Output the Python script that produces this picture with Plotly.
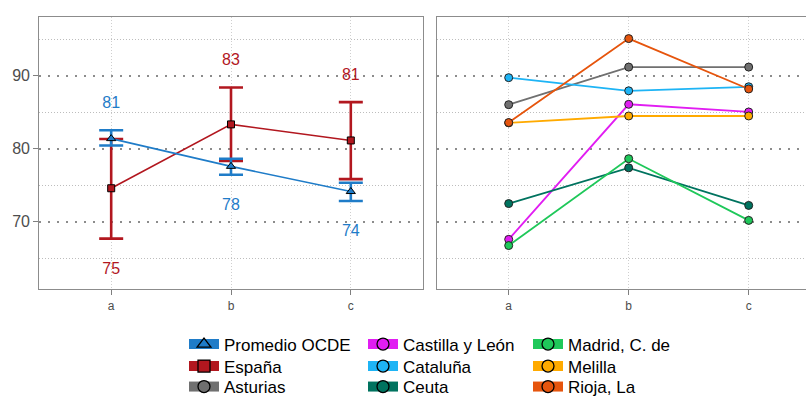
import plotly.graph_objects as go

# ---------------------------------------------------------------- data
categories = ["a", "b", "c"]

# Left panel: OECD average and Spain, with confidence intervals
ocde_name = "Promedio OCDE"
ocde_val = [81.4, 77.6, 74.15]
ocde_low = [80.45, 76.45, 72.85]
ocde_high = [82.55, 78.65, 75.35]

espana_name = "España"
espana_val = [74.6, 83.35, 81.15]
espana_low = [67.7, 78.35, 75.85]
espana_high = [81.35, 88.4, 86.4]

# Right panel: regions
asturias = [86.05, 91.2, 91.2]
castilla_leon = [67.6, 86.1, 85.05]
cataluna = [89.75, 87.95, 88.5]
ceuta = [72.5, 77.4, 72.25]
madrid = [66.75, 78.65, 70.2]
melilla = [83.55, 84.5, 84.5]
rioja = [83.6, 95.1, 88.2]

region_names = ["Asturias", "Castilla y León", "Cataluña", "Ceuta",
                "Madrid, C. de", "Melilla", "Rioja, La"]
region_values = [asturias, castilla_leon, cataluna, ceuta, madrid, melilla, rioja]

y_major_ticks = [70, 80, 90]
y_minor_ticks = [65, 75, 85, 95]

# ---------------------------------------------------------------- styles
W, H = 806, 396
FONT = "Liberation Sans, Arial, sans-serif"
OCDE_COLOR = "#1F7CC8"
ESPANA_COLOR = "#B2171F"
REGION_COLORS = ["#707070", "#E11DF2", "#1EB4F5", "#00735F",
                 "#1FC85A", "#FFAA00", "#E6550D"]
# distance (in y units) between interval end and its value label
LABEL_OFFSET_ABOVE = 3.6
LABEL_OFFSET_BELOW = 4.3


def px_x(p):
    return p / W


def px_y(p):
    return 1 - p / H


fig = go.Figure()


def label_positions(vals, lows, highs, others):
    # label above the interval when the series is the higher one, below otherwise
    return [h + LABEL_OFFSET_ABOVE if v > o else l - LABEL_OFFSET_BELOW
            for v, l, h, o in zip(vals, lows, highs, others)]


def add_interval_series(name, vals, lows, highs, others, color, symbol, size):
    fig.add_trace(go.Scatter(
        x=categories, y=vals, mode="lines+markers", name=name,
        xaxis="x", yaxis="y", showlegend=False,
        line=dict(color=color, width=1.6),
        marker=dict(symbol=symbol, size=size, color=color,
                    line=dict(color="black", width=1)),
        error_y=dict(type="data", symmetric=False,
                     array=[h - v for v, h in zip(vals, highs)],
                     arrayminus=[v - l for v, l in zip(vals, lows)],
                     color=color, thickness=2.6, width=12),
    ))
    fig.add_trace(go.Scatter(
        x=categories, y=label_positions(vals, lows, highs, others),
        mode="text", text=[f"{v:.0f}" for v in vals],
        textfont=dict(family=FONT, size=16, color=color),
        xaxis="x", yaxis="y", showlegend=False, hoverinfo="skip",
    ))


add_interval_series(espana_name, espana_val, espana_low, espana_high,
                    ocde_val, ESPANA_COLOR, "square", 7)
add_interval_series(ocde_name, ocde_val, ocde_low, ocde_high,
                    espana_val, OCDE_COLOR, "triangle-up", 8)

for name, vals, color in zip(region_names, region_values, REGION_COLORS):
    fig.add_trace(go.Scatter(
        x=categories, y=vals, mode="lines+markers", name=name,
        xaxis="x2", yaxis="y2", showlegend=False,
        line=dict(color=color, width=1.8),
        marker=dict(symbol="circle", size=8, color=color,
                    line=dict(color="#222222", width=1)),
    ))

# ---------------------------------------------------------------- legend (3 x 3 grid)
legend_entries = (
    [(ocde_name, OCDE_COLOR, "triangle-up"),
     (espana_name, ESPANA_COLOR, "square")]
    + [(n, c, "circle") for n, c in zip(region_names, REGION_COLORS)]
)
col_text_x = [224, 403, 568]
row_center_y = [344.5, 366.5, 387]

legend_layouts = {}
for i, (name, color, symbol) in enumerate(legend_entries):
    col, row = divmod(i, 3)
    key = "legend" if i == 0 else f"legend{i + 1}"
    fig.add_trace(go.Scatter(
        x=[None], y=[None], mode="lines+markers", name=name,
        xaxis="x", yaxis="y", legend=key, showlegend=True, hoverinfo="skip",
        line=dict(color=color, width=10),
        marker=dict(symbol=symbol, size=12, color=color,
                    line=dict(color="black", width=1.3)),
    ))
    legend_layouts[key] = dict(
        x=px_x(col_text_x[col] - 40), y=px_y(row_center_y[row]),
        xref="paper", yref="paper", xanchor="left", yanchor="middle",
        font=dict(family=FONT, size=17, color="black"),
        bgcolor="rgba(0,0,0,0)", borderwidth=0,
    )

# ---------------------------------------------------------------- axes
grid_x = dict(showgrid=True, gridcolor="#CFCFCF", gridwidth=1, griddash="1px,2px")
common_x = dict(
    type="category", categoryorder="array", categoryarray=categories,
    ticks="outside", ticklen=5, tickwidth=1, tickcolor="#7F7F7F",
    tickfont=dict(family=FONT, size=12, color="#4D4D4D"),
    showline=True, linecolor="#8C8C8C", linewidth=1.2, mirror=True,
    zeroline=False, fixedrange=True, **grid_x,
)
common_y = dict(
    range=[60.8, 98.1], tickvals=y_major_ticks,
    showgrid=True, gridcolor="#8C8C8C", gridwidth=2, griddash="2px,7px",
    minor=dict(tickvals=y_minor_ticks, showgrid=True, gridcolor="#BDBDBD",
               gridwidth=1, griddash="1px,2px", ticks=""),
    zeroline=False, fixedrange=True,
    showline=True, linecolor="#8C8C8C", linewidth=1.2,
)

y_domain = [px_y(289), px_y(16.7)]

layout = dict(
    width=W, height=H,
    margin=dict(l=0, r=0, t=0, b=0, autoexpand=False),
    paper_bgcolor="white", plot_bgcolor="white",
    font=dict(family=FONT),
    xaxis=dict(domain=[px_x(39.3), px_x(422.7)], range=[-0.6, 2.6],
               anchor="y", **common_x),
    yaxis=dict(domain=y_domain, anchor="x", mirror=True,
               ticks="outside", ticklen=5, tickwidth=1, tickcolor="#7F7F7F",
               tickfont=dict(family=FONT, size=16, color="#4D4D4D"),
               **common_y),
    xaxis2=dict(domain=[px_x(436.7), 1.0], range=[-0.6, 2.4775],
                anchor="y2", **common_x),
    yaxis2=dict(domain=y_domain, anchor="x2", mirror=False,
                showticklabels=False, ticks="", **common_y),
    hovermode=False,
)
layout.update(legend_layouts)
fig.update_layout(**layout)

fig.write_html("out.html")
